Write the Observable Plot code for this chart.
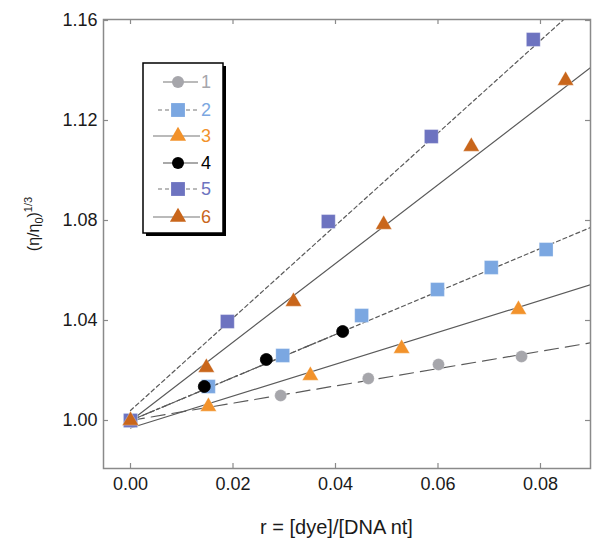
<!DOCTYPE html>
<html>
<head>
<meta charset="utf-8">
<script src="https://cdn.jsdelivr.net/npm/d3@7"></script>
<script src="https://cdn.jsdelivr.net/npm/@observablehq/plot@0.6"></script>
<style>
  html, body { margin: 0; padding: 0; background: #fff; }
  #chart svg { display: block; }
</style>
</head>
<body>
<div id="chart"></div>
<script>
// ---- data ----
const seriesNames = ["1", "2", "3", "4", "5", "6"];
const x1 = [0, 0.0293, 0.0464, 0.0601, 0.0763];
const y1 = [1.000, 1.010, 1.0168, 1.0224, 1.0256];
const x2 = [0, 0.0152, 0.0297, 0.0451, 0.0599, 0.0704, 0.0811];
const y2 = [1.000, 1.0136, 1.026, 1.042, 1.0524, 1.0612, 1.0684];
const x3 = [0, 0.0152, 0.0351, 0.0529, 0.0757];
const y3 = [1.000, 1.0056, 1.018, 1.0288, 1.0444];
const x4 = [0, 0.0144, 0.0265, 0.0414];
const y4 = [1.000, 1.0136, 1.0244, 1.0356];
const x5 = [0, 0.0189, 0.0386, 0.0587, 0.0786];
const y5 = [1.000, 1.0396, 1.0796, 1.1136, 1.1524];
const x6 = [0, 0.0148, 0.0318, 0.0494, 0.0665, 0.0849];
const y6 = [1.000, 1.0212, 1.0476, 1.0784, 1.1096, 1.136];
// fitted lines (slope, intercept)
const fitSlopes = [0.346, 0.86, 0.638, 0.86, 1.85, 1.575];
const fitIntercepts = [1.0, 1.0, 0.997, 1.0, 1.004, 0.9998];
const xTicks = [0, 0.02, 0.04, 0.06, 0.08];
const yTicks = [1.00, 1.04, 1.08, 1.12, 1.16];
const xLabel = "r = [dye]/[DNA nt]";

// ---- styles ----
const colors = ["#a6a6ab", "#7ba7e1", "#f2922b", "#000000", "#6d73c0", "#c9661b"];
const symbols = ["circle", "square", "triangle", "circle", "square", "triangle"];
const radii = [6, 7.8, 6, 6, 7.8, 6];
const dashes = ["14,7", "4,3", null, "9,3,2,3", "4,3", null];
const lineColor = "#5a5a5a";
const font = "'Liberation Sans', Arial, sans-serif";

const xs = [x1, x2, x3, x4, x5, x6];
const ys = [y1, y2, y3, y4, y5, y6];

const W = 592, H = 540;
const mL = 103, mR = 2, mT = 19, mB = 72;
const xDomain = [-0.00527, 0.08976];
const yDomain = [0.9808, 1.1604];
const innerW = W - mL - mR, innerH = H - mT - mB;

const marks = [];
// fit lines
seriesNames.forEach((s, i) => {
  const xEnd = i === 3 ? d3.max(xs[i]) : xDomain[1];
  const pts = [0, xEnd].map(x => ({x, y: fitIntercepts[i] + fitSlopes[i] * x}));
  marks.push(Plot.line(pts, {
    x: "x", y: "y", stroke: lineColor, strokeWidth: 1.2,
    strokeDasharray: dashes[i] || undefined, clip: true
  }));
});
// points
seriesNames.forEach((s, i) => {
  const pts = xs[i].map((x, j) => ({x, y: ys[i][j]}));
  marks.push(Plot.dot(pts, {
    x: "x", y: "y", symbol: symbols[i], r: radii[i],
    fill: colors[i], stroke: i === 3 ? "#000" : "#ffffff", strokeOpacity: i === 3 ? 1 : 0.35, strokeWidth: 0.8
  }));
});
// inward ticks on all four sides
marks.push(Plot.tickX(xTicks, {x: d => d, insetTop: innerH - 5, stroke: "#8a8a8a", strokeWidth: 1.2}));
marks.push(Plot.tickX(xTicks, {x: d => d, insetBottom: innerH - 5, stroke: "#8a8a8a", strokeWidth: 1.2}));
marks.push(Plot.tickY(yTicks, {y: d => d, insetRight: innerW - 5, stroke: "#8a8a8a", strokeWidth: 1.2}));
marks.push(Plot.tickY(yTicks, {y: d => d, insetLeft: innerW - 5, stroke: "#8a8a8a", strokeWidth: 1.2}));
marks.push(Plot.frame({stroke: "#8a8a8a", strokeWidth: 1.5}));
marks.push(Plot.axisX(xTicks, {tickSize: 0, tickPadding: 9, tickFormat: d3.format(".2f"),
  fontSize: 18, fill: "#1a1a1a", label: null}));
marks.push(Plot.axisY(yTicks, {tickSize: 0, tickPadding: 6, tickFormat: d3.format(".2f"),
  fontSize: 18, fill: "#1a1a1a", label: null}));

const plot = Plot.plot({
  width: W, height: H,
  marginLeft: mL, marginRight: mR, marginTop: mT, marginBottom: mB,
  style: {fontFamily: font, background: "#fff", color: "#1a1a1a"},
  x: {domain: xDomain},
  y: {domain: yDomain},
  marks
});
document.getElementById("chart").appendChild(plot);

const svg = d3.select(plot);
const xScale = plot.scale("x");
// ---- x label ----
svg.append("text")
  .attr("x", (mL + (W - mR)) / 2 - 10).attr("y", 534)
  .attr("text-anchor", "middle").attr("font-size", 20)
  .attr("fill", "#1a1a1a").attr("font-family", font)
  .text(xLabel);

// ---- y label with sub/superscript ----
const yl = svg.append("text")
  .attr("transform", "translate(39,224) rotate(-90)")
  .attr("text-anchor", "middle")
  .attr("font-size", 16)
  .attr("fill", "#1a1a1a")
  .attr("font-family", font);
yl.append("tspan").text("(η/η");
yl.append("tspan").attr("font-size", 11).attr("dy", 4).text("0");
yl.append("tspan").attr("dy", -4).text(")");
yl.append("tspan").attr("font-size", 11).attr("dy", -7).text("1/3");

// ---- legend ----
const lg = svg.append("g").attr("font-family", font);
lg.append("rect").attr("x", 146).attr("y", 66).attr("width", 80).attr("height", 170).attr("fill", "#000");
lg.append("rect").attr("x", 143).attr("y", 63).attr("width", 80).attr("height", 170)
  .attr("fill", "#fff").attr("stroke", "#000").attr("stroke-width", 1.5);
const rowY = [82, 110, 136, 163, 189, 217];
const segs = [[163, 198], [158, 198], [153, 200], [163, 198], [158, 198], [153, 200]];
const legDash = [null, "4,3", null, null, "4,3", null];
const symMap = {circle: d3.symbolCircle, square: d3.symbolSquare, triangle: d3.symbolTriangle};
seriesNames.forEach((s, i) => {
  lg.append("line").attr("x1", segs[i][0]).attr("x2", segs[i][1])
    .attr("y1", rowY[i]).attr("y2", rowY[i])
    .attr("stroke", i === 3 ? "#555" : "#777").attr("stroke-width", 1.2)
    .attr("stroke-dasharray", legDash[i]);
  lg.append("path")
    .attr("d", d3.symbol(symMap[symbols[i]], Math.PI * radii[i] * radii[i])())
    .attr("transform", `translate(178,${rowY[i]})`)
    .attr("fill", colors[i]);
  lg.append("text").attr("x", 206).attr("y", rowY[i]).attr("dy", "0.36em")
    .attr("font-size", 18).attr("fill", colors[i]).text(s);
});
</script>
</body>
</html>
